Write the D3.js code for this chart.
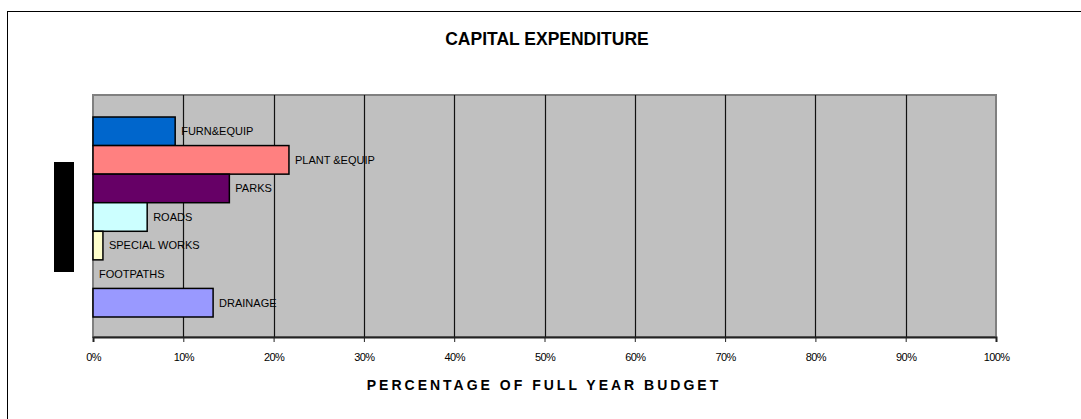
<!DOCTYPE html>
<html>
<head>
<meta charset="utf-8">
<script src="https://cdn.jsdelivr.net/npm/d3@7"></script>
<style>
  body { margin: 0; background: #fff; }
  svg text { font-family: Arial, "Liberation Sans", sans-serif; }
</style>
</head>
<body>
<div id="chart"></div>
<script>
'use strict';

// data
var categories = ["FURN&EQUIP", "PLANT &EQUIP", "PARKS", "ROADS", "SPECIAL WORKS", "FOOTPATHS", "DRAINAGE"];
var values = [0.091, 0.217, 0.151, 0.060, 0.011, 0, 0.133];
var colors = ["#0066cc", "#ff8080", "#660066", "#ccffff", "#ffffcc", "#99ccff", "#9999ff"];
var tickValues = [0, 0.1, 0.2, 0.3, 0.4, 0.5, 0.6, 0.7, 0.8, 0.9, 1];

var width = 1081, height = 419;
var plot = { left: 93, top: 95, right: 996, bottom: 337 };

var rows = categories.map(function(c, i) {
	return { name: c, value: values[i], color: colors[i] };
});

var svg = d3.select("#chart").
	append("svg").
	attr("width", width).
	attr("height", height);

// outer chart frame
svg.append("rect").
	attr("x", 7.5).attr("y", 11.5).
	attr("width", 1100).attr("height", 500).
	attr("fill", "#fff").attr("stroke", "#000").attr("stroke-width", 1);

var x = d3.scaleLinear().domain([0, 1]).range([plot.left, plot.right]);
var y = d3.scaleBand().domain(categories).
	range([plot.top + 22, plot.bottom - 20]).padding(0);

// plot background
svg.append("rect").
	attr("x", plot.left).attr("y", plot.top).
	attr("width", plot.right - plot.left).attr("height", plot.bottom - plot.top).
	attr("fill", "#c0c0c0").attr("stroke", "#808080").attr("stroke-width", 2);

// gridlines
svg.append("g").selectAll("line").
	data(tickValues.slice(1, -1)).enter().append("line").
	attr("x1", function(d) { return Math.round(x(d)) + 0.5; }).
	attr("x2", function(d) { return Math.round(x(d)) + 0.5; }).
	attr("y1", plot.top).attr("y2", plot.bottom).
	attr("stroke", "#111").attr("stroke-width", 1.2);

// axis
var axis = svg.append("g").
	attr("transform", "translate(0," + plot.bottom + ")").
	call(d3.axisBottom(x).tickValues(tickValues).tickFormat(d3.format(".0%")).tickSize(5).tickPadding(11));
axis.select(".domain").attr("stroke", "#222").attr("stroke-width", 2);
axis.selectAll(".tick line").attr("stroke", "#222");
axis.selectAll("text").
	attr("font-size", "11px").attr("fill", "#000").
	style("letter-spacing", "-0.6px").
	attr("font-family", "Arial, 'Liberation Sans', sans-serif");

// bars
svg.append("g").selectAll("rect").
	data(rows.filter(function(d) { return d.value > 0; })).enter().append("rect").
	attr("x", x(0)).
	attr("y", function(d) { return y(d.name); }).
	attr("width", function(d) { return x(d.value) - x(0); }).
	attr("height", y.bandwidth()).
	attr("fill", function(d) { return d.color; }).
	attr("stroke", "#000").attr("stroke-width", 1.5);

// bar labels
svg.append("g").selectAll("text").
	data(rows).enter().append("text").
	attr("x", function(d) { return x(d.value) + 6; }).
	attr("y", function(d) { return y(d.name) + y.bandwidth() / 2; }).
	attr("dy", "0.35em").
	attr("font-size", "11px").
	style("letter-spacing", "0px").
	text(function(d) { return d.name; });

// black legend block
svg.append("rect").
	attr("x", 54).attr("y", 162).attr("width", 20).attr("height", 110).
	attr("fill", "#000");

// title
svg.append("text").
	attr("x", 547).attr("y", 45).
	attr("text-anchor", "middle").
	attr("font-size", "17.5px").attr("font-weight", "bold").
	text("CAPITAL EXPENDITURE");

// axis title
svg.append("text").
	attr("x", 544).attr("y", 390).
	attr("text-anchor", "middle").
	attr("font-size", "14px").attr("font-weight", "bold").
	style("letter-spacing", "3px").
	text("PERCENTAGE OF FULL YEAR BUDGET");
</script>
</body>
</html>
